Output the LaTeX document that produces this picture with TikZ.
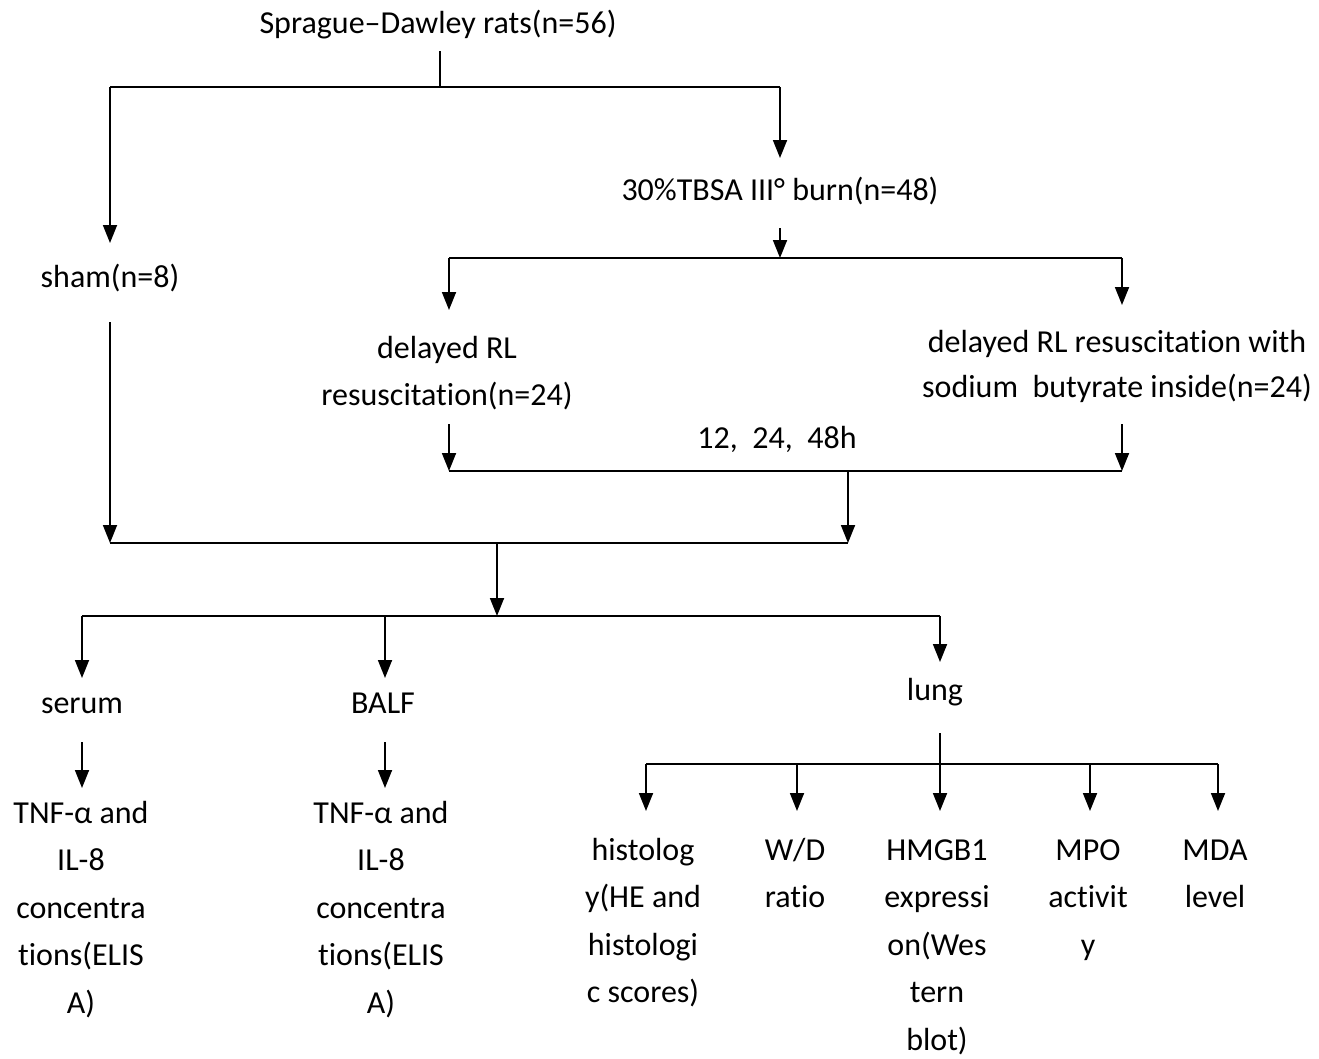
\documentclass[tikz,border=0pt]{standalone}
\usepackage{fontspec}
\setmainfont{Carlito}[Ligatures={NoCommon}]
\usetikzlibrary{arrows.meta}
\begin{document}
\begin{tikzpicture}[x=1pt,y=-1pt,
  txt/.style={inner sep=0pt, anchor=base, font=\fontsize{32}{47.5}\selectfont},
  txtb/.style={inner sep=0pt, anchor=base, font=\fontsize{32}{45}\selectfont},
  link/.style={line width=1.8pt, line cap=butt},
  arr/.style={link, -{Triangle[width=14pt,length=18pt]}}]
\useasboundingbox[fill=white] (0,0) rectangle (1319,1058);

% texts
\node[txt] (sd) at (438,33) {Sprague–Dawley rats(n=56)};
\node[txt] (sham) at (110,287) {sham(n=8)};
\node[txt] (burn) at (780,200) {30\%TBSA III° burn(n=48)};
\node[txt] (drl) at (447,358) {\begin{tabular}[t]{@{}c@{}}delayed RL\\resuscitation(n=24)\end{tabular}};
\node[txtb] (drlsb) at (1117,352) {\begin{tabular}[t]{@{}c@{}}delayed RL resuscitation with\\sodium~ butyrate inside(n=24)\end{tabular}};
\node[txt] (hrs) at (777,448) {12,~ 24,~ 48h};
\node[txt] (serum) at (82,713) {serum};
\node[txt] (balf) at (383,713) {BALF};
\node[txt] (lung) at (935,700) {lung};
\node[txt] (tnfa) at (81,823) {\begin{tabular}[t]{@{}c@{}}TNF-α and\\IL-8\\concentra\\tions(ELIS\\A)\end{tabular}};
\node[txt] (tnfb) at (381,823) {\begin{tabular}[t]{@{}c@{}}TNF-α and\\IL-8\\concentra\\tions(ELIS\\A)\end{tabular}};
\node[txt] (histo) at (643,860) {\begin{tabular}[t]{@{}c@{}}histolog\\y(HE and\\histologi\\c scores)\end{tabular}};
\node[txt] (wd) at (795,860) {\begin{tabular}[t]{@{}c@{}}W/D\\ratio\end{tabular}};
\node[txt] (hmgb) at (937,860) {\begin{tabular}[t]{@{}c@{}}HMGB1\\expressi\\on(Wes\\tern\\blot)\end{tabular}};
\node[txt] (mpo) at (1088,860) {\begin{tabular}[t]{@{}c@{}}MPO\\activit\\y\end{tabular}};
\node[txt] (mda) at (1215,860) {\begin{tabular}[t]{@{}c@{}}MDA\\level\end{tabular}};

% junction and tip coordinates
\coordinate (sdbot) at (440,51);
\coordinate (split1) at (440,87);
\coordinate (split1l) at (110,87);
\coordinate (split1r) at (780,87);
\coordinate (shamtip) at (110,243);
\coordinate (burntip) at (780,158);
\coordinate (burnbot) at (780,228);
\coordinate (split2) at (780,258);
\coordinate (split2l) at (449,258);
\coordinate (split2r) at (1122,258);
\coordinate (drltip) at (449,310);
\coordinate (drlsbtip) at (1122,305);
\coordinate (drlbot) at (449,424);
\coordinate (drlsbbot) at (1122,424);
\coordinate (join1l) at (449,471);
\coordinate (join1r) at (1122,471);
\coordinate (join1m) at (848,471);
\coordinate (join2r) at (848,543);
\coordinate (shambot) at (110,322);
\coordinate (join2l) at (110,543);
\coordinate (join2m) at (497,543);
\coordinate (split3) at (497,616);
\coordinate (split3l) at (82,616);
\coordinate (split3b) at (385,616);
\coordinate (split3r) at (940,616);
\coordinate (serumtip) at (82,678);
\coordinate (balftip) at (385,678);
\coordinate (lungtip) at (940,662);
\coordinate (serumbot) at (82,742);
\coordinate (balfbot) at (385,742);
\coordinate (tnfatip) at (82,788);
\coordinate (tnfbtip) at (385,788);
\coordinate (lungbot) at (940,733);
\coordinate (split4) at (940,764);
\coordinate (split4a) at (646,764);
\coordinate (split4b) at (797,764);
\coordinate (split4d) at (1090,764);
\coordinate (split4e) at (1218,764);
\coordinate (histotip) at (646,811);
\coordinate (wdtip) at (797,811);
\coordinate (hmgbtip) at (940,811);
\coordinate (mpotip) at (1090,811);
\coordinate (mdatip) at (1218,811);

% connectors
\draw[link] (sdbot) -- (split1);
\draw[link] (split1l) -- (split1r);
\draw[arr] (split1l) -- (shamtip);
\draw[arr] (split1r) -- (burntip);
\draw[arr] (burnbot) -- (split2);
\draw[link] (split2l) -- (split2r);
\draw[arr] (split2l) -- (drltip);
\draw[arr] (split2r) -- (drlsbtip);
\draw[arr] (drlbot) -- (join1l);
\draw[arr] (drlsbbot) -- (join1r);
\draw[link] (join1l) -- (join1r);
\draw[arr] (join1m) -- (join2r);
\draw[arr] (shambot) -- (join2l);
\draw[link] (join2l) -- (join2r);
\draw[arr] (join2m) -- (split3);
\draw[link] (split3l) -- (split3r);
\draw[arr] (split3l) -- (serumtip);
\draw[arr] (split3b) -- (balftip);
\draw[arr] (split3r) -- (lungtip);
\draw[arr] (serumbot) -- (tnfatip);
\draw[arr] (balfbot) -- (tnfbtip);
\draw[arr] (lungbot) -- (hmgbtip);
\draw[link] (split4a) -- (split4e);
\draw[arr] (split4a) -- (histotip);
\draw[arr] (split4b) -- (wdtip);
\draw[arr] (split4d) -- (mpotip);
\draw[arr] (split4e) -- (mdatip);
\end{tikzpicture}
\end{document}
